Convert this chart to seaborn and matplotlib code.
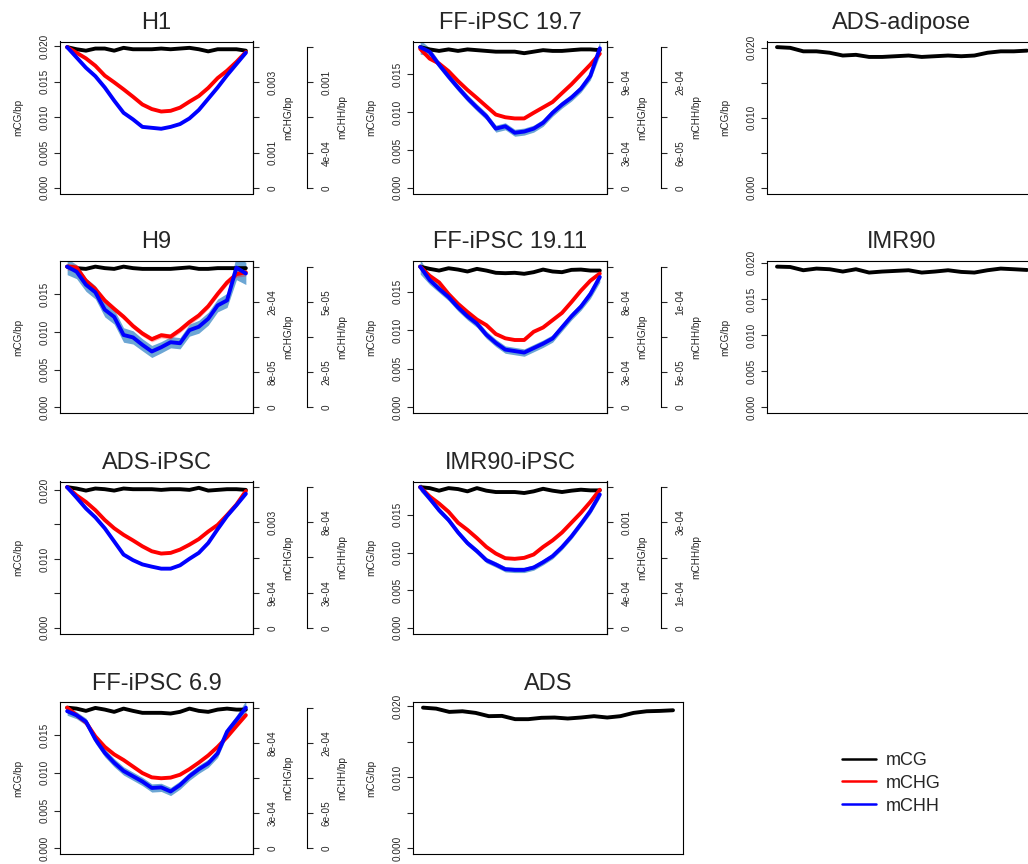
import numpy as np
import matplotlib
matplotlib.use("Agg")
import matplotlib.pyplot as plt
import seaborn as sns
from matplotlib.lines import Line2D

sns.set_style("white")
plt.rcParams["font.family"] = ["Liberation Sans", "DejaVu Sans"]
plt.rcParams["axes.edgecolor"] = "black"

# Gene-body bins (20 equal bins from TSS to TES)
BINS = np.arange(1, 21)

# ---- methylation profiles (per bp) ----
H1_CG = [0.0199, 0.0196, 0.0194, 0.0197, 0.0197, 0.0194, 0.0198, 0.0196, 0.0196, 0.0196,
         0.0197, 0.0196, 0.0197, 0.0198, 0.0196, 0.0193, 0.0196, 0.0196, 0.0196, 0.0194]
H1_CHG = [4.00e-3, 3.84e-3, 3.68e-3, 3.47e-3, 3.19e-3, 3.00e-3, 2.80e-3, 2.59e-3, 2.37e-3, 2.24e-3,
          2.17e-3, 2.19e-3, 2.28e-3, 2.45e-3, 2.61e-3, 2.84e-3, 3.12e-3, 3.33e-3, 3.58e-3, 3.86e-3]
H1_CHH = [1.50e-3, 1.39e-3, 1.28e-3, 1.19e-3, 1.07e-3, 0.93e-3, 0.80e-3, 0.73e-3, 0.65e-3, 0.64e-3,
          0.63e-3, 0.65e-3, 0.68e-3, 0.74e-3, 0.83e-3, 0.95e-3, 1.07e-3, 1.20e-3, 1.32e-3, 1.44e-3]

FF197_CG = [0.0186, 0.0183, 0.0181, 0.0183, 0.0181, 0.0183, 0.0182, 0.0181, 0.0180, 0.0180,
            0.0180, 0.0178, 0.0180, 0.0182, 0.0181, 0.0181, 0.0182, 0.0183, 0.0183, 0.0182]
FF197_CHG = [1.186e-3, 1.102e-3, 1.060e-3, 0.995e-3, 0.911e-3, 0.835e-3, 0.766e-3, 0.695e-3, 0.625e-3, 0.602e-3,
             0.592e-3, 0.592e-3, 0.640e-3, 0.686e-3, 0.732e-3, 0.808e-3, 0.883e-3, 0.967e-3, 1.051e-3, 1.144e-3]
FF197_CHH = [2.40e-4, 2.32e-4, 2.10e-4, 1.90e-4, 1.71e-4, 1.53e-4, 1.37e-4, 1.22e-4, 1.01e-4, 1.05e-4,
             0.94e-4, 0.96e-4, 1.01e-4, 1.11e-4, 1.28e-4, 1.42e-4, 1.54e-4, 1.69e-4, 1.91e-4, 2.38e-4]
FF197_CHH_SE = [12e-6, 7e-6, 6e-6, 6e-6, 6e-6, 6e-6, 6e-6, 6e-6, 6e-6, 6e-6,
                6e-6, 6e-6, 6e-6, 6e-6, 6e-6, 6e-6, 6e-6, 6e-6, 7e-6, 12e-6]

H9_CG = [0.0187, 0.0185, 0.0184, 0.0187, 0.0185, 0.0184, 0.0187, 0.0185, 0.0184, 0.0184,
         0.0184, 0.0184, 0.0185, 0.0186, 0.0184, 0.0184, 0.0185, 0.0185, 0.0185, 0.0185]
H9_CHG = [3.20e-4, 3.18e-4, 2.88e-4, 2.69e-4, 2.43e-4, 2.24e-4, 2.06e-4, 1.85e-4, 1.68e-4, 1.55e-4,
          1.64e-4, 1.61e-4, 1.76e-4, 1.94e-4, 2.09e-4, 2.30e-4, 2.58e-4, 2.84e-4, 3.03e-4, 3.07e-4]
H9_CHG_SE = [8e-6, 7e-6, 6e-6, 6e-6, 6e-6, 6e-6, 6e-6, 6e-6, 6e-6, 6e-6,
             6e-6, 6e-6, 6e-6, 6e-6, 6e-6, 6e-6, 6e-6, 6e-6, 7e-6, 8e-6]
H9_CHH = [7.00e-5, 6.75e-5, 6.10e-5, 5.72e-5, 4.86e-5, 4.50e-5, 3.60e-5, 3.48e-5, 3.11e-5, 2.78e-5,
          2.99e-5, 3.24e-5, 3.19e-5, 3.84e-5, 4.01e-5, 4.41e-5, 5.07e-5, 5.32e-5, 6.95e-5, 6.66e-5]
H9_CHH_SE = [4.0e-6, 3.5e-6, 3.3e-6, 3.3e-6, 3.6e-6, 3.6e-6, 3.6e-6, 3.3e-6, 3.0e-6, 3.0e-6,
             2.8e-6, 2.8e-6, 2.8e-6, 3.0e-6, 3.2e-6, 3.2e-6, 3.2e-6, 3.5e-6, 6.0e-6, 5.5e-6]

FF1911_CG = [0.01825, 0.01796, 0.01774, 0.01804, 0.01787, 0.01762, 0.01796, 0.01774, 0.01745, 0.01740,
             0.01745, 0.01732, 0.01753, 0.01787, 0.01762, 0.01753, 0.01783, 0.01787, 0.01774, 0.01774]
FF1911_CHG = [1.080e-3, 1.010e-3, 0.959e-3, 0.870e-3, 0.795e-3, 0.732e-3, 0.674e-3, 0.631e-3, 0.563e-3, 0.530e-3,
              0.517e-3, 0.517e-3, 0.580e-3, 0.613e-3, 0.669e-3, 0.725e-3, 0.808e-3, 0.895e-3, 0.972e-3, 1.027e-3]
FF1911_CHH = [1.90e-4, 1.72e-4, 1.60e-4, 1.49e-4, 1.35e-4, 1.23e-4, 1.13e-4, 0.98e-4, 0.87e-4, 0.78e-4,
              0.76e-4, 0.74e-4, 0.80e-4, 0.86e-4, 0.93e-4, 1.08e-4, 1.23e-4, 1.36e-4, 1.53e-4, 1.76e-4]
FF1911_CHH_SE = [10e-6, 6e-6, 5e-6, 5e-6, 5e-6, 5e-6, 5e-6, 5e-6, 5e-6, 5e-6,
                 5e-6, 5e-6, 5e-6, 5e-6, 5e-6, 5e-6, 5e-6, 5e-6, 6e-6, 7e-6]

ADSI_CG = [0.0204, 0.0202, 0.0199, 0.0202, 0.0201, 0.0199, 0.0202, 0.0201, 0.0201, 0.0201,
           0.0200, 0.0201, 0.0201, 0.0200, 0.0203, 0.0199, 0.0200, 0.0201, 0.0201, 0.0200]
ADSI_CHG = [3.600e-3, 3.390e-3, 3.221e-3, 3.011e-3, 2.759e-3, 2.548e-3, 2.380e-3, 2.237e-3, 2.086e-3, 1.960e-3,
            1.901e-3, 1.918e-3, 2.002e-3, 2.128e-3, 2.271e-3, 2.464e-3, 2.633e-3, 2.885e-3, 3.154e-3, 3.499e-3]
ADSI_CHH = [1.060e-3, 0.981e-3, 0.899e-3, 0.832e-3, 0.750e-3, 0.651e-3, 0.552e-3, 0.510e-3, 0.478e-3, 0.461e-3,
            0.446e-3, 0.446e-3, 0.471e-3, 0.520e-3, 0.565e-3, 0.639e-3, 0.743e-3, 0.842e-3, 0.924e-3, 1.010e-3]

IMRI_CG = [0.01868, 0.01855, 0.01821, 0.01855, 0.01842, 0.01812, 0.01855, 0.01821, 0.01803, 0.01803,
           0.01803, 0.01790, 0.01812, 0.01846, 0.01821, 0.01803, 0.01821, 0.01834, 0.01825, 0.01825]
IMRI_CHG = [1.600e-3, 1.495e-3, 1.413e-3, 1.320e-3, 1.196e-3, 1.114e-3, 1.021e-3, 0.920e-3, 0.845e-3, 0.792e-3,
            0.785e-3, 0.796e-3, 0.834e-3, 0.920e-3, 0.994e-3, 1.084e-3, 1.196e-3, 1.308e-3, 1.432e-3, 1.570e-3]
IMRI_CHH = [4.20e-4, 3.86e-4, 3.51e-4, 3.22e-4, 2.85e-4, 2.53e-4, 2.29e-4, 2.02e-4, 1.89e-4, 1.75e-4,
            1.73e-4, 1.73e-4, 1.80e-4, 1.96e-4, 2.14e-4, 2.41e-4, 2.73e-4, 3.10e-4, 3.49e-4, 3.98e-4]
IMRI_CHH_SE = [12e-6, 9e-6, 9e-6, 8e-6, 8e-6, 8e-6, 8e-6, 8e-6, 8e-6, 8e-6,
               8e-6, 8e-6, 8e-6, 8e-6, 8e-6, 8e-6, 8e-6, 8e-6, 9e-6, 10e-6]

FF69_CG = [0.01864, 0.01851, 0.01821, 0.01860, 0.01838, 0.01808, 0.01851, 0.01821, 0.01795, 0.01795,
           0.01795, 0.01786, 0.01808, 0.01851, 0.01821, 0.01808, 0.01838, 0.01851, 0.01838, 0.01838]
FF69_CHG = [1.080e-3, 1.022e-3, 0.967e-3, 0.859e-3, 0.779e-3, 0.721e-3, 0.678e-3, 0.628e-3, 0.578e-3, 0.545e-3,
            0.538e-3, 0.543e-3, 0.565e-3, 0.608e-3, 0.658e-3, 0.713e-3, 0.779e-3, 0.854e-3, 0.939e-3, 1.022e-3]
FF69_CHH = [2.34e-4, 2.27e-4, 2.16e-4, 1.86e-4, 1.63e-4, 1.46e-4, 1.32e-4, 1.23e-4, 1.14e-4, 1.03e-4,
            1.04e-4, 0.97e-4, 1.08e-4, 1.23e-4, 1.35e-4, 1.45e-4, 1.62e-4, 1.99e-4, 2.19e-4, 2.40e-4]
FF69_CHH_SE = [7e-6, 6e-6, 6e-6, 7e-6, 7e-6, 7e-6, 7e-6, 7e-6, 7e-6, 7e-6,
               7e-6, 7e-6, 7e-6, 7e-6, 7e-6, 7e-6, 7e-6, 7e-6, 8e-6, 12e-6]

ADSAD_CG = [0.0201, 0.0200, 0.0195, 0.0195, 0.0193, 0.0189, 0.0190, 0.0187, 0.0187, 0.0188,
            0.0189, 0.0187, 0.0188, 0.0189, 0.0188, 0.0189, 0.0193, 0.0195, 0.0195, 0.0196]
IMR90_CG = [0.01946, 0.01941, 0.01896, 0.01919, 0.01910, 0.01878, 0.01910, 0.01864, 0.01878, 0.01887,
            0.01896, 0.01864, 0.01878, 0.01896, 0.01873, 0.01864, 0.01896, 0.01919, 0.01910, 0.01900]
ADS_CG = [0.01977, 0.01963, 0.01917, 0.01926, 0.01903, 0.01857, 0.01861, 0.01815, 0.01815, 0.01834,
          0.01838, 0.01824, 0.01838, 0.01857, 0.01838, 0.01857, 0.01903, 0.01926, 0.01931, 0.01940]

# Top of the secondary (mCHG / mCHH) axes; ticks sit at quarters of these
CHG_TOP = {"H1": 4.0e-3, "FF-iPSC 19.7": 1.2e-3, "H9": 3.2e-4, "FF-iPSC 19.11": 1.08e-3,
           "ADS-iPSC": 3.6e-3, "IMR90-iPSC": 1.6e-3, "FF-iPSC 6.9": 1.08e-3}
CHH_TOP = {"H1": 1.5e-3, "FF-iPSC 19.7": 2.4e-4, "H9": 7.0e-5, "FF-iPSC 19.11": 1.9e-4,
           "ADS-iPSC": 1.06e-3, "IMR90-iPSC": 4.2e-4, "FF-iPSC 6.9": 2.4e-4}

SAMPLES = [
    dict(name="H1", cg=H1_CG, chg=H1_CHG, chh=H1_CHH),
    dict(name="FF-iPSC 19.7", cg=FF197_CG, chg=FF197_CHG, chh=FF197_CHH, chh_se=FF197_CHH_SE),
    dict(name="ADS-adipose", cg=ADSAD_CG),
    dict(name="H9", cg=H9_CG, chg=H9_CHG, chh=H9_CHH, chg_se=H9_CHG_SE, chh_se=H9_CHH_SE),
    dict(name="FF-iPSC 19.11", cg=FF1911_CG, chg=FF1911_CHG, chh=FF1911_CHH, chh_se=FF1911_CHH_SE),
    dict(name="IMR90", cg=IMR90_CG),
    dict(name="ADS-iPSC", cg=ADSI_CG, chg=ADSI_CHG, chh=ADSI_CHH),
    dict(name="IMR90-iPSC", cg=IMRI_CG, chg=IMRI_CHG, chh=IMRI_CHH, chh_se=IMRI_CHH_SE),
    dict(name="FF-iPSC 6.9", cg=FF69_CG, chg=FF69_CHG, chh=FF69_CHH, chh_se=FF69_CHH_SE),
    dict(name="ADS", cg=ADS_CG),
]

CG_TICKS = [0.0, 0.005, 0.010, 0.015, 0.020]
SPARSE_CG_LABELS = {"ADS-adipose", "ADS-iPSC", "ADS"}

LEGEND_LABELS = ["mCG", "mCHG", "mCHH"]
COLORS = {"mCG": "black", "mCHG": "#FF0000", "mCHH": "#0000FF"}
BAND_CHH = "#6CA6D4"
BAND_CHG = (1.0, 0.0, 0.0, 0.30)

# ---- page geometry (pixels) ----
W, H = 1028, 864
ROW_TOP = [41.5, 261.0, 481.5, 702.0]
PANEL_H = 152.0
PANEL_POS = {
    "H1": (0, 60, 193), "FF-iPSC 19.7": (0, 413, 194), "ADS-adipose": (0, 767, 270),
    "H9": (1, 60, 193), "FF-iPSC 19.11": (1, 413, 194), "IMR90": (1, 767, 270),
    "ADS-iPSC": (2, 60, 193), "IMR90-iPSC": (2, 413, 194),
    "FF-iPSC 6.9": (3, 60, 193), "ADS": (3, 413, 270),
}
LW = 2.8
TICK_LEN = 4.3
SMALL = 7.2

fig = plt.figure(figsize=(W / 100, H / 100), dpi=100)
fig.patch.set_facecolor("white")


def r_label(x):
    if x == 0:
        return "0"
    v = float(f"{x:.1g}")
    d = max(0, -int(np.floor(np.log10(v))))
    fixed = f"{v:.{d}f}"
    sci = f"{v:.0e}"
    return fixed if len(fixed) <= len(sci) else sci


def px_axes(row, left, width):
    top = ROW_TOP[row]
    return fig.add_axes([left / W, 1 - (top + PANEL_H) / H, width / W, PANEL_H / H])


def draw_line(ax, values, color):
    sns.lineplot(x=BINS, y=np.asarray(values), ax=ax, color=color, linewidth=LW,
                 solid_capstyle="round", solid_joinstyle="round", legend=False,
                 estimator=None)


def bare_twin(ax, z):
    t = ax.twinx()
    t.set_zorder(z)
    t.patch.set_visible(False)
    for s in t.spines.values():
        s.set_visible(False)
    t.set_yticks([])
    return t


def right_axis(t, top, label, outward=None):
    sp = t.spines["right"]
    if outward is not None:
        sp.set_position(("outward", outward))
    sp.set_visible(True)
    sp.set_linewidth(0.8)
    sp.set_color("black")
    t.set_ylim(-0.04 * top, 1.04 * top)
    if outward is not None:
        sp.set_bounds(0, top)
    ticks = [0, top / 4, top / 2, 3 * top / 4, top]
    labels = ["0", r_label(top / 4), "", r_label(3 * top / 4), ""]
    t.set_yticks(ticks, labels, rotation=90, va="center")
    t.tick_params(axis="y", right=True, left=False, labelright=True, labelleft=False,
                  direction="out", length=TICK_LEN, width=0.8, labelsize=SMALL, pad=6)
    t.yaxis.set_label_position("right")
    t.set_ylabel(label, fontsize=SMALL, labelpad=4, rotation=90, visible=True)


for s in SAMPLES:
    name = s["name"]
    row, left, width = PANEL_POS[name]
    ax = px_axes(row, left, width)
    ax.patch.set_visible(False)
    ax.set_zorder(3)

    cg = np.asarray(s["cg"])
    m = cg.max()
    draw_line(ax, cg, COLORS["mCG"])
    ax.set_xlim(1 - 0.04 * 19, 20 + 0.04 * 19)
    ax.set_ylim(-0.04 * m, 1.04 * m)
    ax.set_xticks([])
    ax.set_xlabel("")

    ticks = [t for t in CG_TICKS if t <= 1.04 * m]
    labels = []
    for t in ticks:
        if name in SPARSE_CG_LABELS and round(t / 0.005) % 2 == 1:
            labels.append("")
        else:
            labels.append(f"{t:.3f}")
    ax.set_yticks(ticks, labels, rotation=90, va="center")
    ax.tick_params(axis="y", left=True, right=False, direction="out", length=TICK_LEN,
                   width=0.8, labelsize=SMALL, pad=3)
    ax.set_ylabel("mCG/bp", fontsize=SMALL, labelpad=12, visible=True)
    for sp in ax.spines.values():
        sp.set_visible(True)
        sp.set_linewidth(0.8)
        sp.set_color("black")
    ax.set_title(name, fontsize=17, pad=9)

    if "chg" not in s:
        continue

    chg = np.asarray(s["chg"])
    chh = np.asarray(s["chh"])
    chg_top = CHG_TOP[name]
    chh_top = CHH_TOP[name]

    # error bands sit underneath every profile line
    band_chh = bare_twin(ax, 1)
    band_chh.set_ylim(-0.04 * chh_top, 1.04 * chh_top)
    if "chh_se" in s:
        se = np.asarray(s["chh_se"])
        band_chh.fill_between(BINS, chh - se, chh + se, color=BAND_CHH, linewidth=0)
    band_chg = bare_twin(ax, 2)
    band_chg.set_ylim(-0.04 * chg_top, 1.04 * chg_top)
    if "chg_se" in s:
        se = np.asarray(s["chg_se"])
        band_chg.fill_between(BINS, chg - se, chg + se, color=BAND_CHG, linewidth=0)

    ax_chg = bare_twin(ax, 4)
    draw_line(ax_chg, chg, COLORS["mCHG"])
    right_axis(ax_chg, chg_top, "mCHG/bp")

    ax_chh = bare_twin(ax, 5)
    draw_line(ax_chh, chh, COLORS["mCHH"])
    right_axis(ax_chh, chh_top, "mCHH/bp", outward=39)

    for t in (band_chh, band_chg, ax_chg, ax_chh):
        t.set_xlim(1 - 0.04 * 19, 20 + 0.04 * 19)
        t.set_xlabel("")

handles = [Line2D([], [], color=COLORS[k], lw=1.8) for k in LEGEND_LABELS]
fig.legend(handles, LEGEND_LABELS, loc="upper left",
           bbox_to_anchor=(842 / W, 1 - 752 / H), frameon=False, fontsize=13,
           handlelength=1.9, handletextpad=0.55, labelspacing=0.32,
           borderpad=0, borderaxespad=0)

fig.savefig("out.png", dpi=100, facecolor="white")
